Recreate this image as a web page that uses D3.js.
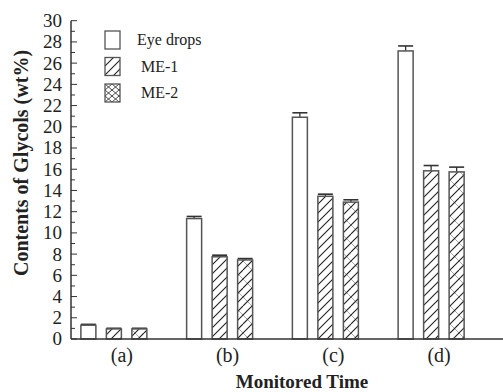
<!DOCTYPE html>
<html>
<head>
<meta charset="utf-8">
<script src="https://cdn.jsdelivr.net/npm/d3@7"></script>
<style>
  html, body { margin: 0; padding: 0; background: #fff; }
  svg { display: block; font-family: "Liberation Serif", "Times New Roman", serif; }
</style>
</head>
<body>
<svg id="chart" width="503" height="392"></svg>
<script>
// ---- data ----
const categories = ["(a)", "(b)", "(c)", "(d)"];
const seriesNames = ["Eye drops", "ME-1", "ME-2"];
const eyeDrops = [1.3, 11.35, 20.9, 27.15];
const me1 = [0.95, 7.75, 13.45, 15.85];
const me2 = [0.95, 7.45, 12.9, 15.75];
const eyeDropsErr = [0.08, 0.2, 0.42, 0.47];
const me1Err = [0.06, 0.15, 0.2, 0.5];
const me2Err = [0.06, 0.13, 0.22, 0.45];
const yTicks = [0, 2, 4, 6, 8, 10, 12, 14, 16, 18, 20, 22, 24, 26, 28, 30];

const seriesValues = [eyeDrops, me1, me2];
const seriesErrors = [eyeDropsErr, me1Err, me2Err];
const fills = ["#ffffff", "url(#hatch)", "url(#cross)"];
const legendFills = ["#ffffff", "url(#hatch)", "url(#xcross)"];

const svg = d3.select("#chart");
const axisColor = "#333";
const barStroke = "#555";

// patterns
const defs = svg.append("defs");
const hatch = defs.append("pattern").attr("id", "hatch")
  .attr("patternUnits", "userSpaceOnUse").attr("width", 9).attr("height", 9);
hatch.append("rect").attr("width", 9).attr("height", 9).attr("fill", "#fff");
hatch.append("path").attr("d", "M-2,2 L2,-2 M0,9 L9,0 M7,11 L11,7")
  .attr("stroke", "#222").attr("stroke-width", 1.1);

const cross = defs.append("pattern").attr("id", "cross")
  .attr("patternUnits", "userSpaceOnUse").attr("width", 18).attr("height", 18);
cross.append("rect").attr("width", 18).attr("height", 18).attr("fill", "#fff");
cross.append("path").attr("d", "M0,0 L18,18 M-2,16 L2,20 M16,-2 L20,2")
  .attr("stroke", "#a8a8a8").attr("stroke-width", 1);
cross.append("path").attr("d", "M-2,2 L2,-2 M0,9 L9,0 M0,18 L18,0 M9,18 L18,9 M16,20 L20,16")
  .attr("stroke", "#222").attr("stroke-width", 1.1);

const xcross = defs.append("pattern").attr("id", "xcross")
  .attr("patternUnits", "userSpaceOnUse").attr("width", 7).attr("height", 6);
xcross.append("rect").attr("width", 7).attr("height", 6).attr("fill", "#fff");
xcross.append("path").attr("d", "M0,0 L7,6 M0,6 L7,0")
  .attr("stroke", "#333").attr("stroke-width", 0.9);

// scales
const y = d3.scaleLinear().domain([0, 30]).range([339, 20.7]);
const x0 = d3.scaleBand().domain(categories).range([61, 484]).padding(0);
const x1 = d3.scalePoint().domain(seriesNames).range([-25.5, 25.5]);
const barW = 15;
const xAxisLeft = 71;

// bars
seriesNames.forEach((s, si) => {
  const g = svg.append("g");
  categories.forEach((c, ci) => {
    const cx = x0(c) + x0.bandwidth() / 2 + x1(s);
    const v = seriesValues[si][ci];
    const e = seriesErrors[si][ci];
    g.append("line").attr("x1", cx).attr("x2", cx)
      .attr("y1", y(v)).attr("y2", y(v + e))
      .attr("stroke", "#333").attr("stroke-width", 1.3);
    g.append("line").attr("x1", cx - barW / 2).attr("x2", cx + barW / 2)
      .attr("y1", y(v + e)).attr("y2", y(v + e))
      .attr("stroke", "#333").attr("stroke-width", 1.6);
    g.append("rect")
      .attr("x", cx - barW / 2).attr("width", barW)
      .attr("y", y(v)).attr("height", y(0) - y(v))
      .attr("fill", fills[si]).attr("stroke", barStroke).attr("stroke-width", 1.5);
  });
});

// y axis
const yAxisG = svg.append("g").attr("transform", `translate(${xAxisLeft},0)`);
yAxisG.append("line").attr("x1", 0).attr("x2", 0).attr("y1", y(0)).attr("y2", y(30))
  .attr("stroke", axisColor).attr("stroke-width", 1.5);
d3.range(0, 31, 1).forEach(t => {
  const major = t % 2 === 0;
  yAxisG.append("line").attr("x1", 0).attr("x2", major ? 6 : 4)
    .attr("y1", y(t)).attr("y2", y(t)).attr("stroke", axisColor).attr("stroke-width", 1);
});
yAxisG.selectAll("text.tick").data(yTicks).join("text")
  .attr("class", "tick")
  .attr("x", -9).attr("y", d => y(d)).attr("dy", "0.34em")
  .attr("text-anchor", "end").attr("font-size", 19).attr("fill", "#222")
  .text(d => d);

// x axis
svg.append("line").attr("x1", xAxisLeft).attr("x2", 503).attr("y1", y(0)).attr("y2", y(0))
  .attr("stroke", axisColor).attr("stroke-width", 1.5);
svg.selectAll("text.cat").data(categories).join("text")
  .attr("class", "cat")
  .attr("x", d => x0(d) + x0.bandwidth() / 2 + 8).attr("y", 362)
  .attr("text-anchor", "middle").attr("font-size", 20).attr("fill", "#222")
  .text(d => d);

// axis titles
svg.append("text").attr("x", 302).attr("y", 388).attr("text-anchor", "middle")
  .attr("font-size", 19).attr("font-weight", "bold").attr("fill", "#222")
  .text("Monitored Time");
svg.append("text").attr("transform", "translate(28,163) rotate(-90)")
  .attr("text-anchor", "middle").attr("font-size", 20).attr("font-weight", "bold").attr("fill", "#222")
  .text("Contents of Glycols (wt%)");

// legend
const legend = svg.append("g");
seriesNames.forEach((s, i) => {
  const cy = 40 + i * 26.5;
  legend.append("rect").attr("x", 105).attr("y", cy - 9).attr("width", 15).attr("height", 18)
    .attr("fill", legendFills[i]).attr("stroke", barStroke).attr("stroke-width", 1.3);
  legend.append("text").attr("x", i === 0 ? 137 : 141).attr("y", cy).attr("dy", "0.34em")
    .attr("font-size", 16).attr("fill", "#222").text(s);
});
</script>
</body>
</html>
